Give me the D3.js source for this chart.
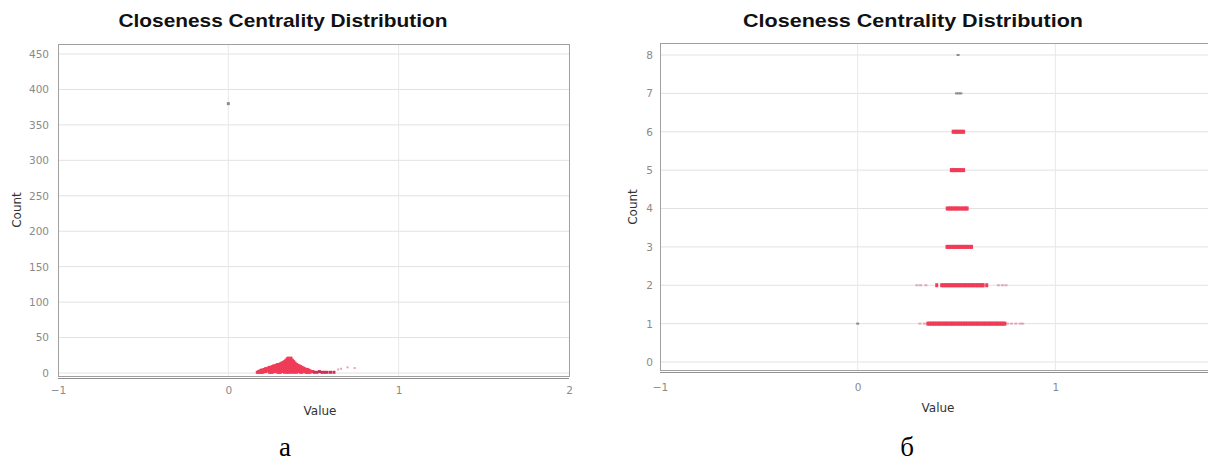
<!DOCTYPE html>
<html><head><meta charset="utf-8">
<script src="https://cdn.jsdelivr.net/npm/d3@7/dist/d3.min.js"></script>
<style>body{margin:0;background:#fff}svg{display:block}</style>
</head><body>
<svg id="c" width="1208" height="462"></svg>
<script>
// ---------- data ----------
const chartTitle = "Closeness Centrality Distribution";
const xLabel = "Value";
const yLabel = "Count";
const captions = ["а", "б"];
const leftXTicks = [-1, 0, 1, 2];
const rightXTicks = [-1, 0, 1];
const leftYTicks = [0, 50, 100, 150, 200, 250, 300, 350, 400, 450];
const rightYTicks = [0, 1, 2, 3, 4, 5, 6, 7, 8];

// panel а : isolated nodes
const leftIsoValues = [0];
const leftIsoCounts = [380];
// panel а : dense cloud (value, count) pairs
const leftValues = [
 0.170,0.178,0.178,0.186,0.186,0.194,0.194,0.202,0.202,0.210,0.210,0.218,0.218,0.226,0.226,0.234,0.234,
 0.242,0.242,0.242,0.250,0.250,0.250,0.258,0.258,0.258,0.266,0.266,0.266,0.274,0.274,0.274,0.282,0.282,0.282,
 0.290,0.290,0.290,0.290,0.298,0.298,0.298,0.298,0.306,0.306,0.306,0.306,0.314,0.314,0.314,0.314,
 0.322,0.322,0.322,0.322,0.330,0.330,0.330,0.330,0.330,0.338,0.338,0.338,0.338,0.338,
 0.346,0.346,0.346,0.346,0.346,0.346,0.352,0.352,0.352,0.352,0.352,0.352,0.360,0.360,0.360,0.360,0.360,
 0.368,0.368,0.368,0.368,0.368,0.368,0.376,0.376,0.376,0.376,0.376,0.384,0.384,0.384,0.384,0.384,
 0.392,0.392,0.392,0.392,0.400,0.400,0.400,0.400,0.408,0.408,0.408,0.416,0.416,0.416,0.424,0.424,0.424,
 0.432,0.432,0.432,0.440,0.440,0.448,0.448,0.456,0.456,0.464,0.464,0.472,0.472,0.480,0.480,0.488,0.496
];
const leftCounts = [
 1,1,2,3,1,4,1,4,1,5,2,6,2,6,3,7,3,
 8,4,1,8,4,1,9,5,1,10,6,2,10,6,2,11,7,3,
 12,8,4,1,12,8,4,1,13,9,5,1,14,10,6,2,
 15,11,7,3,16,12,8,4,1,18,14,10,6,2,
 20,16,12,8,4,1,21,17,13,9,5,1,19,15,11,7,3,
 21,17,13,9,5,1,18,14,10,6,2,16,12,8,4,1,
 14,10,6,2,12,8,4,1,11,7,3,10,6,2,9,5,1,
 8,4,1,7,3,6,2,5,1,5,1,4,1,3,1,2,2
];
// panel а : tail
const leftTailValues = [0.505, 0.520, 0.535, 0.550, 0.565, 0.580, 0.600, 0.620];
const leftTailCounts = [1, 1, 2, 1, 1, 1, 1, 1];
const leftFaintValues = [0.645, 0.662, 0.700, 0.742];
const leftFaintCounts = [5, 6, 8, 7];

// panel б : rows by count
const rightIsoValues = [0, 0.508, 0.500, 0.512, 0.522];
const rightIsoCounts = [1, 8, 7, 7, 7];
const rightRow6 = [0.483, 0.492, 0.500, 0.509, 0.518, 0.527, 0.536];
const rightRow5 = [0.474, 0.483, 0.490, 0.499, 0.507, 0.516, 0.525, 0.536];
const rightRow4 = [0.453, 0.462, 0.470, 0.478, 0.487, 0.495, 0.503, 0.512, 0.521, 0.530, 0.538, 0.546, 0.554];
const rightRow3 = [0.452, 0.460, 0.468, 0.476, 0.485, 0.493, 0.501, 0.510, 0.518, 0.527, 0.535, 0.543, 0.551, 0.560, 0.568, 0.576];
const rightRow2 = [0.400, 0.425, 0.433, 0.441, 0.449, 0.457, 0.466, 0.474, 0.482, 0.490, 0.499, 0.507, 0.515, 0.523,
                   0.532, 0.540, 0.548, 0.556, 0.565, 0.573, 0.581, 0.589, 0.598, 0.606, 0.614, 0.622, 0.630, 0.635, 0.653];
const rightRow1 = [0.355, 0.365, 0.373, 0.381, 0.389, 0.398, 0.406, 0.414, 0.422, 0.431, 0.439, 0.447, 0.455, 0.464,
                   0.472, 0.480, 0.488, 0.497, 0.505, 0.513, 0.521, 0.530, 0.538, 0.546, 0.554, 0.563, 0.571, 0.579,
                   0.587, 0.596, 0.604, 0.612, 0.620, 0.629, 0.637, 0.645, 0.653, 0.662, 0.670, 0.678, 0.686, 0.695,
                   0.703, 0.711, 0.719, 0.728, 0.736, 0.745];
const rightFaintValues = [0.300, 0.318, 0.345, 0.712, 0.732, 0.750, 0.315, 0.338, 0.758, 0.778, 0.800, 0.822, 0.835];
const rightFaintCounts = [2, 2, 2, 2, 2, 2, 1, 1, 1, 1, 1, 1, 1];

// ---------- drawing ----------
const svg = d3.select("#c");
const red = "#f03c58";

function panel(o) {
  const g = svg.append("g");
  const x = d3.scaleLinear().domain([-1, 2]).range([o.x0, o.x1]);
  const y = d3.scaleLinear().domain([0, o.yMax]).range([o.yBase, o.yTop]);

  // grid
  g.append("g").selectAll("line").data(o.yTicks).join("line")
    .attr("x1", o.x0).attr("x2", o.x1).attr("y1", d => y(d)).attr("y2", d => y(d))
    .attr("stroke", "#e2e2e2").attr("stroke-width", 1);
  g.append("g").selectAll("line").data([0, 1]).join("line")
    .attr("x1", d => x(d)).attr("x2", d => x(d)).attr("y1", o.boxTop).attr("y2", o.boxBottom)
    .attr("stroke", "#e8e8e8").attr("stroke-width", 1);

  // box
  g.append("rect").attr("x", o.x0 + 0.5).attr("y", o.boxTop + 0.5)
    .attr("width", o.x1 - o.x0).attr("height", o.boxBottom - o.boxTop)
    .attr("fill", "none").attr("stroke", "#a0a0a0").attr("stroke-width", 1);
  // x axis line
  g.append("line").attr("x1", o.x0).attr("x2", o.x1)
    .attr("y1", o.boxBottom + 2.5).attr("y2", o.boxBottom + 2.5)
    .attr("stroke", "#909090").attr("stroke-width", 1);

  // axes via d3
  const ya = d3.axisLeft(y).tickValues(o.yTicks).tickSize(0).tickPadding(0).tickFormat(d3.format("d"));
  const yg = g.append("g").attr("transform", `translate(${o.yLabelX},0)`).call(ya);
  yg.select(".domain").remove();
  yg.selectAll("text").attr("font-family", "DejaVu Sans, sans-serif").attr("font-size", 10.5).attr("fill", "#8a8a8a");

  const xa = d3.axisBottom(x).tickValues(o.xTicks).tickSize(0).tickPadding(0).tickFormat(d3.format("d"));
  const xg = g.append("g").attr("transform", `translate(0,${o.xLabelY})`).call(xa);
  xg.select(".domain").remove();
  xg.selectAll("text").attr("font-family", "DejaVu Sans, sans-serif").attr("font-size", 10.5).attr("fill", "#8a8a8a");

  // titles
  g.append("text").attr("x", o.titleX).attr("y", 27).attr("text-anchor", "middle")
    .attr("font-family", "Liberation Sans, Arial, sans-serif").attr("font-weight", "bold").attr("font-size", 18.5)
    .attr("textLength", o.titleW).attr("lengthAdjust", "spacingAndGlyphs")
    .attr("fill", "#111").text(chartTitle);
  g.append("text").attr("transform", `translate(${o.countX},${o.countY}) rotate(-90)`)
    .attr("text-anchor", "middle").attr("font-family", "DejaVu Sans, sans-serif")
    .attr("font-size", 12).attr("fill", "#333").text(yLabel);
  g.append("text").attr("x", o.valueX).attr("y", o.valueY).attr("text-anchor", "middle")
    .attr("font-family", "DejaVu Sans, sans-serif").attr("font-size", 12).attr("fill", "#333").text(xLabel);
  g.append("text").attr("x", o.capX).attr("y", 456).attr("text-anchor", "middle")
    .attr("font-family", "Liberation Serif, serif").attr("font-size", 27).attr("fill", "#000").text(o.caption);

  return {g, x, y};
}

function dots(p, vals, cnts, color, w, h, op) {
  const data = vals.map((v, i) => ({v, c: cnts[i]}));
  p.g.append("g").selectAll("rect").data(data).join("rect")
    .attr("x", d => p.x(d.v) - w / 2).attr("y", d => p.y(d.c) - h / 2)
    .attr("width", w).attr("height", h).attr("fill", color).attr("opacity", op);
}

// panel а
const L = panel({x0: 58, x1: 569, yMax: 450, yBase: 373, yTop: 54, yTicks: leftYTicks, xTicks: leftXTicks,
  boxTop: 44, boxBottom: 376, yLabelX: 49, xLabelY: 387, titleX: 283, titleW: 329,
  countX: 21, countY: 210, valueX: 320, valueY: 415, capX: 285, caption: captions[0]});
dots(L, leftValues, leftCounts, red, 3, 3, 1);
dots(L, leftTailValues, leftTailCounts, "#c8305a", 3, 3, 1);
dots(L, leftFaintValues, leftFaintCounts, "#e07a90", 2, 2, 0.7);
dots(L, leftIsoValues, leftIsoCounts, "#8c8c8c", 3, 3, 1);

// panel б
const R = panel({x0: 660, x1: 1253, yMax: 8, yBase: 362, yTop: 55, yTicks: rightYTicks, xTicks: rightXTicks,
  boxTop: 43, boxBottom: 370, yLabelX: 653, xLabelY: 384, titleX: 913, titleW: 340,
  countX: 637, countY: 207, valueX: 938, valueY: 412, capX: 907, caption: captions[1]});
const rows = [[rightRow1, 1], [rightRow2, 2], [rightRow3, 3], [rightRow4, 4], [rightRow5, 5], [rightRow6, 6]];
rows.forEach(([vals, c]) => dots(R, vals, vals.map(() => c), red, 3, 4, 1));
dots(R, rightFaintValues, rightFaintCounts, "#d88a9c", 3, 2, 0.7);
dots(R, rightIsoValues, rightIsoCounts, "#8c8c8c", 3, 2, 1);
</script>
</body></html>
